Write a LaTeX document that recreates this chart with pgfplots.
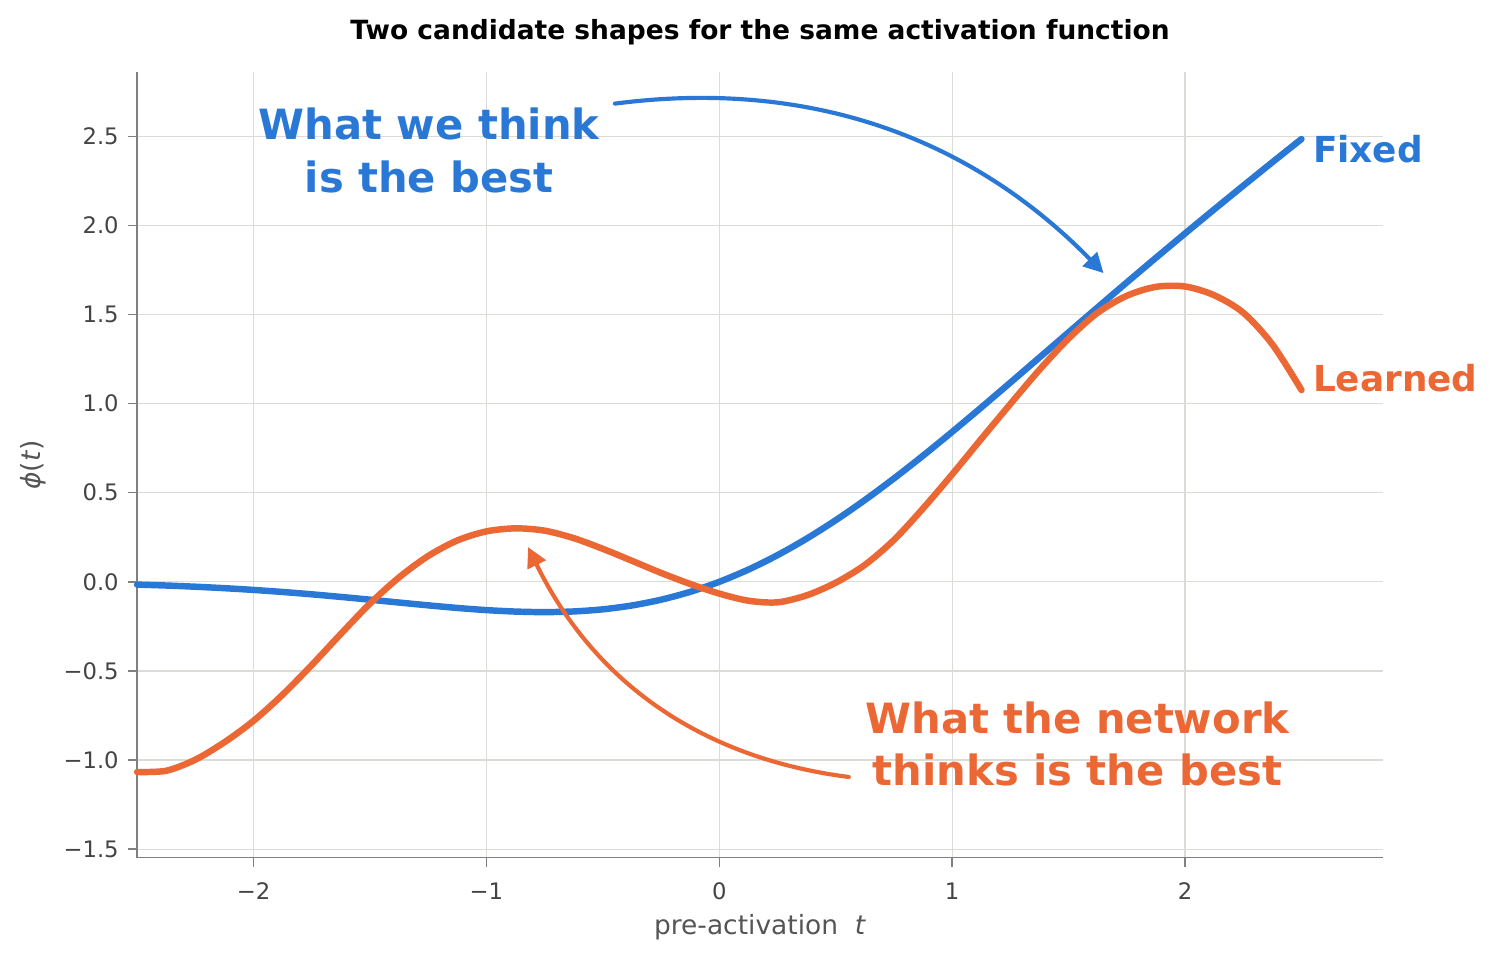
\documentclass[border=0pt]{standalone}
\usepackage{fontspec}
\setmainfont{DejaVu Sans}
\usepackage{pgfplots}
\pgfplotsset{compat=1.18}
\usetikzlibrary{arrows.meta}
\definecolor{cblue}{HTML}{2A78D6}
\definecolor{corange}{HTML}{EB6733}
\definecolor{gridc}{HTML}{DCDCD7}
\definecolor{spine}{HTML}{808080}
\definecolor{ticktxt}{HTML}{444444}
\definecolor{labtxt}{HTML}{555555}

\pgfplotstableread{
t y
-2.5 -0.0155
-2.375 -0.0208
-2.25 -0.0275
-2.125 -0.0357
-2.0 -0.0455
-1.875 -0.0570
-1.75 -0.0701
-1.625 -0.0847
-1.5 -0.1002
-1.375 -0.1163
-1.25 -0.1320
-1.125 -0.1466
-1.0 -0.1587
-0.875 -0.1669
-0.75 -0.1700
-0.625 -0.1662
-0.5 -0.1543
-0.375 -0.1327
-0.25 -0.1003
-0.125 -0.0563
0.0 0.0
0.125 0.0687
0.25 0.1497
0.375 0.2423
0.5 0.3457
0.625 0.4588
0.75 0.5800
0.875 0.7080
1.0 0.8413
1.125 0.9784
1.25 1.1180
1.375 1.2587
1.5 1.3998
1.625 1.5403
1.75 1.6799
1.875 1.8180
2.0 1.9545
2.125 2.0893
2.25 2.2225
2.375 2.3542
2.5 2.4845
}\fixedtab

\pgfplotstableread{
t y
-2.5 -1.067
-2.375 -1.060
-2.25 -0.998
-2.125 -0.900
-2.0 -0.780
-1.875 -0.633
-1.75 -0.467
-1.625 -0.292
-1.5 -0.122
-1.375 0.025
-1.25 0.145
-1.125 0.232
-1.0 0.283
-0.875 0.300
-0.75 0.287
-0.625 0.245
-0.5 0.185
-0.375 0.118
-0.25 0.050
-0.125 -0.012
0.0 -0.066
0.125 -0.106
0.25 -0.115
0.375 -0.076
0.5 -0.005
0.625 0.095
0.75 0.235
0.875 0.412
1.0 0.603
1.125 0.802
1.25 0.998
1.375 1.190
1.5 1.365
1.625 1.510
1.75 1.605
1.875 1.655
2.0 1.657
2.125 1.608
2.25 1.510
2.375 1.332
2.5 1.076
}\learnedtab

\begin{document}
\begin{tikzpicture}
\begin{axis}[
  scale only axis, width=598pt, height=377pt,
  xmin=-2.5, xmax=2.85, ymin=-1.547, ymax=2.86,
  axis lines*=left,
  axis line style={spine, line width=0.7pt},
  xtick={-2,-1,0,1,2}, xticklabels={−2,−1,0,1,2},
  ytick={-1.5,-1,-0.5,0,0.5,1,1.5,2,2.5},
  yticklabels={−1.5,−1.0,−0.5,0.0,0.5,1.0,1.5,2.0,2.5},
  tick align=outside, major tick length=4.3pt,
  tick style={spine, line width=0.7pt},
  grid=major, grid style={gridc, line width=0.6pt},
  tick label style={font=\fontsize{10.9}{13}\selectfont, text=ticktxt},
  xticklabel style={anchor=center, yshift=-11.8pt},
  yticklabel style={anchor=east, xshift=-1pt},
  xlabel={pre-activation\ \ \textit{t}},
  ylabel={\textit{ϕ}(\textit{t})},
  label style={font=\fontsize{12.7}{15}\selectfont, text=labtxt},
  xlabel style={at={(rel axis cs:0.5,0)}, anchor=center, yshift=-33.6pt},
  ylabel style={at={(rel axis cs:0,0.5)}, anchor=center, yshift=50pt},
  title={Two candidate shapes for the same activation function},
  title style={font=\bfseries\fontsize{12.7}{15}\selectfont, at={(rel axis cs:0.5,1)}, anchor=center, yshift=13.2pt},
  clip=false,
]
\addplot[cblue, line width=3.1pt, line cap=round, smooth] table[x=t,y=y] {\fixedtab};
\addplot[corange, line width=3.1pt, line cap=round, smooth] table[x=t,y=y] {\learnedtab};

\draw[cblue, line width=2pt, line cap=round, -{Triangle[length=9.5pt,width=9.5pt]}]
  (axis cs:-0.448,2.683) .. controls (axis cs:0.371,2.822) and (axis cs:1.070,2.507) .. (axis cs:1.650,1.732);
\draw[corange, line width=2pt, line cap=round, -{Triangle[length=9.5pt,width=9.5pt]}]
  (axis cs:0.556,-1.095) .. controls (axis cs:-0.081,-0.989) and (axis cs:-0.540,-0.559) .. (axis cs:-0.821,0.195);

\node[cblue, font=\bfseries\fontsize{20}{25}\selectfont, align=center] at (axis cs:-1.246,2.42) {What we think\\is the best};
\node[corange, font=\bfseries\fontsize{20}{25}\selectfont, align=center] at (axis cs:1.538,-0.908) {What the network\\thinks is the best};
\node[cblue, font=\bfseries\fontsize{17.2}{20}\selectfont, anchor=west, inner sep=0pt] at (axis cs:2.548,2.43) {Fixed};
\node[corange, font=\bfseries\fontsize{17.2}{20}\selectfont, anchor=west, inner sep=0pt] at (axis cs:2.548,1.14) {Learned};
\end{axis}
\pgfresetboundingbox
\useasboundingbox ([xshift=-65.8pt,yshift=-50.4pt]current axis.south west) rectangle ([xshift=55.2pt,yshift=34.6pt]current axis.north east);
\end{tikzpicture}
\end{document}
